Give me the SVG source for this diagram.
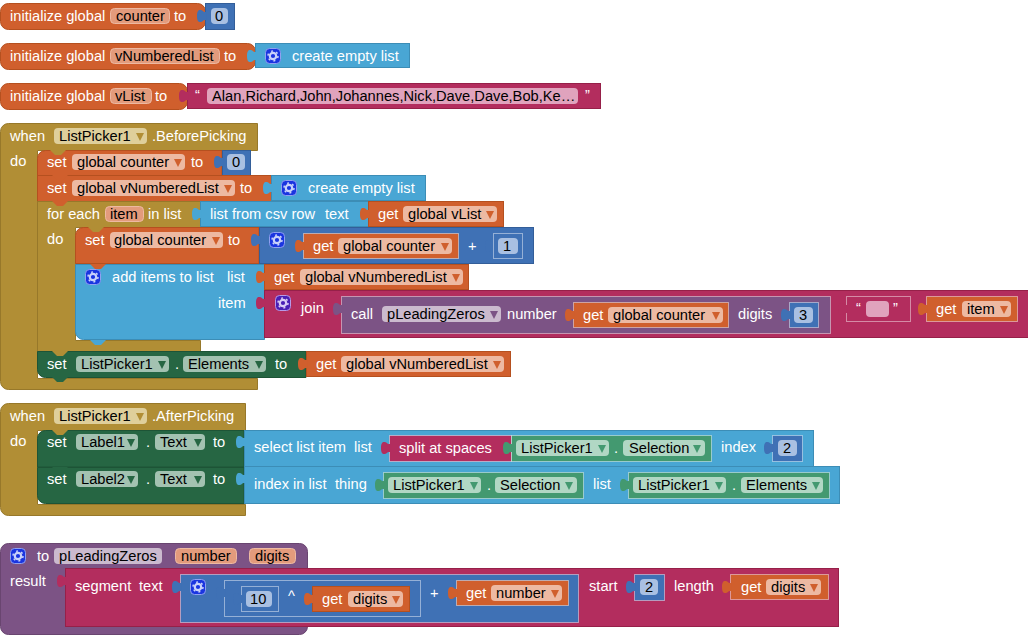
<svg xmlns="http://www.w3.org/2000/svg" width="1028" height="635" viewBox="0 0 1028 635">
<style>
text{font-family:"Liberation Sans",Arial,sans-serif;font-size:14.67px;fill:#fff}
text.k{fill:#000}
.o{fill:#D05F2D;stroke:#B5501F}
.n{fill:#3F71B5;stroke:#335E99}
.l{fill:#49A6D4;stroke:#3C8DB6}
.p{fill:#B32D5E;stroke:#962049}
.m{fill:#B18E35;stroke:#97782A}
.d{fill:#266643;stroke:#1D5436}
.g{fill:#439970;stroke:#37815E}
.v{fill:#7C5385;stroke:#694570}
.i{stroke:#fff;stroke-opacity:.45}
.fo{fill:#EDB9A2}.fn{fill:#A9C0E2}.fp{fill:#E0A3BD}.fm{fill:#DFCF9B}.fd{fill:#A3C2B1}.fg{fill:#B1D7C4}.fv{fill:#CBBACE}
.fr{fill:#E39B7C;stroke:#EDB9A2}
.to{fill:#D05F2D}.tm{fill:#B18E35}.td{fill:#266643}.tg{fill:#439970}.tv{fill:#7C5385}
</style>
<defs>
<path id="tab" stroke="none" d="M9.500 0V3H7.500C6.500 3 6 1.500 4 1C1.500 .4 0 2 0 7S1.500 13.600 4 13C6 12.500 6.500 11 7.500 11H9.500V14Z"/>
<path id="tri" stroke="none" d="M1 1H9L5 9Z"/>
<path id="ntc" stroke="none" d="M0 0H16L11 5H5Z"/>
<g id="gear">
<rect x=".5" y=".5" width="15" height="15" rx="4" fill="#1A35E0" stroke="#8FA0F0"/>
<circle cx="8" cy="8" r="3.200" fill="none" stroke="#C9D2FA" stroke-width="2.200"/>
<circle cx="8" cy="8" r="5" fill="none" stroke="#C9D2FA" stroke-width="1.500" stroke-dasharray="2 3.240"/>
</g>
<g id="gearp">
<rect x=".5" y=".5" width="15" height="15" rx="4" fill="#4A1FB5" stroke="#B79AE8"/>
<circle cx="8" cy="8" r="3.200" fill="none" stroke="#D9CBF5" stroke-width="2.200"/>
<circle cx="8" cy="8" r="5" fill="none" stroke="#D9CBF5" stroke-width="1.500" stroke-dasharray="2 3.240"/>
</g>
</defs>

<g id="init-counter">
<rect class="o" x=".5" y="3.500" width="205" height="26" rx="8"/>
<text x="10" y="21">initialize global</text>
<rect class="fr" x="110.500" y="8.500" width="59" height="15" rx="4"/><text class="k" x="116" y="21">counter</text>
<text x="174" y="21">to</text>
</g>
<g id="num-0">
<rect class="n" x="205.500" y="3.500" width="29" height="26"/><use href="#tab" x="197" y="9" class="n"/>
<rect class="fn" x="211" y="8" width="17" height="16" rx="4"/><text class="k" x="215" y="21">0</text>
</g>

<g id="init-vnumbered">
<rect class="o" x=".5" y="43.500" width="255" height="26" rx="8"/>
<text x="10" y="61">initialize global</text>
<rect class="fr" x="110.500" y="48.500" width="109" height="15" rx="4"/><text class="k" x="115" y="61">vNumberedList</text>
<text x="224" y="61">to</text>
</g>
<g id="empty-list-1">
<rect class="l" x="255.500" y="43.500" width="154" height="24"/><use href="#tab" x="247" y="49" class="l"/>
<use href="#gear" x="265" y="48"/><text x="292" y="61">create empty list</text>
</g>

<g id="init-vlist">
<rect class="o" x=".5" y="83.500" width="187" height="26" rx="8"/>
<text x="10" y="101">initialize global</text>
<rect class="fr" x="110.500" y="88.500" width="41" height="15" rx="4"/><text class="k" x="115" y="101">vList</text>
<text x="155" y="101">to</text>
</g>
<g id="text-vlist">
<rect class="p" x="187.500" y="83.500" width="413" height="25"/><use href="#tab" x="179" y="89" class="p"/>
<text x="195" y="100">“</text>
<rect class="fp" x="207" y="88" width="371" height="16" rx="4"/><text class="k" x="212" y="101">Alan,Richard,John,Johannes,Nick,Dave,Dave,Bob,Ke…</text>
<text x="585" y="100">”</text>
</g>

<g id="when-before">
<path class="m" d="M.5 131.500a8 8 0 0 1 8-8H257.500V150.500H37.500V378.500H257.500V389.500H8.500a8 8 0 0 1-8-8Z"/>
<text x="10" y="141">when</text>
<rect class="fm" x="54" y="128" width="93" height="16" rx="4"/><text class="k" x="59" y="141">ListPicker1</text><use href="#tri" x="135" y="132" class="tm"/>
<text x="152" y="141">.BeforePicking</text>
<text x="10" y="166">do</text>
</g>
<g id="set-counter">
<path class="o" d="M37.500 158.500a8 8 0 0 1 8-8H222V175.500H37.500Z"/>
<use href="#ntc" x="50" y="150" class="tm"/>
<text x="47" y="167">set</text>
<rect class="fo" x="72" y="154" width="113" height="16" rx="4"/><text class="k" x="77" y="167">global counter</text><use href="#tri" x="173" y="158" class="to"/>
<text x="191" y="167">to</text>
<rect class="n" x="222.500" y="150.500" width="28" height="25"/><use href="#tab" x="214" y="155" class="n"/>
<rect class="fn" x="227" y="154" width="18" height="16" rx="4"/><text class="k" x="232" y="167">0</text>
</g>
<g id="set-vnumbered">
<rect class="o" x="37.500" y="175.500" width="234" height="26"/>
<use href="#ntc" x="52" y="175" class="to"/>
<text x="47" y="193">set</text>
<rect class="fo" x="72" y="180" width="163" height="16" rx="4"/><text class="k" x="77" y="193">global vNumberedList</text><use href="#tri" x="223" y="184" class="to"/>
<text x="240" y="193">to</text>
<rect class="l" x="271.500" y="175.500" width="154" height="25"/><use href="#tab" x="263" y="181" class="l"/>
<use href="#gear" x="281" y="180"/><text x="308" y="193">create empty list</text>
</g>
<g id="for-each">
<path class="m" d="M37.500 201.500H200.500V227.500H75.500V340.500H200.500V351.500H37.500Z"/>
<use href="#ntc" x="52" y="201" class="to"/>
<text x="47" y="219">for each</text>
<rect class="fr" x="105.500" y="206.500" width="38" height="15" rx="4"/><text class="k" x="110" y="219">item</text>
<text x="148" y="219">in list</text>
<text x="47" y="244">do</text>
</g>
<g id="csv-row">
<rect class="l" x="200.500" y="201.500" width="168" height="25"/><use href="#tab" x="192" y="207" class="l"/>
<text x="210" y="219">list from csv row</text><text x="325" y="219">text</text>
</g>
<g id="get-vlist">
<rect class="o" x="368.500" y="201.500" width="135" height="25"/><use href="#tab" x="360" y="207" class="o"/>
<text x="378" y="219">get</text>
<rect class="fo" x="403" y="206" width="94" height="16" rx="4"/><text class="k" x="408" y="219">global vList</text><use href="#tri" x="485" y="210" class="to"/>
</g>
<g id="set-counter-2">
<path class="o" d="M75.500 235.500a8 8 0 0 1 8-8H259V263.500H75.500Z"/>
<use href="#ntc" x="88" y="227" class="tm"/>
<text x="85" y="245">set</text>
<rect class="fo" x="110" y="232" width="113" height="16" rx="4"/><text class="k" x="114" y="245">global counter</text><use href="#tri" x="211" y="236" class="to"/>
<text x="228" y="245">to</text>
</g>
<g id="add-block">
<rect class="n" x="259.500" y="227.500" width="274" height="36"/><use href="#tab" x="251" y="233" class="n"/>
<use href="#gear" x="269" y="232"/>
<text x="468" y="251">+</text>
<use href="#tab" x="485" y="239" class="n"/>
<rect class="n i" x="493.500" y="233.500" width="29" height="25"/>
<rect class="fn" x="498" y="238" width="20" height="16" rx="4"/><text class="k" x="503" y="251">1</text>
</g>
<g id="get-counter-1">
<rect class="o i" x="303.500" y="233.500" width="155" height="25"/><use href="#tab" x="295" y="239" class="o"/>
<text x="313" y="251">get</text>
<rect class="fo" x="338" y="238" width="114" height="16" rx="4"/><text class="k" x="343" y="251">global counter</text><use href="#tri" x="440" y="242" class="to"/>
</g>
<g id="add-items">
<path class="l" d="M75.500 264.500H264.500V339.500H83.500a8 8 0 0 1-8-8Z"/>
<use href="#ntc" x="90" y="264" class="to"/>
<use href="#ntc" x="90" y="340" class="l"/>
<use href="#gear" x="85" y="269"/>
<text x="112" y="282">add items to list</text><text x="227" y="282">list</text><text x="218" y="308">item</text>
</g>
<g id="get-vnumbered-1">
<rect class="o" x="264.500" y="264.500" width="204" height="25"/><use href="#tab" x="256" y="270" class="o"/>
<text x="274" y="282">get</text>
<rect class="fo" x="300" y="269" width="163" height="16" rx="4"/><text class="k" x="305" y="282">global vNumberedList</text><use href="#tri" x="451" y="273" class="to"/>
</g>
<g id="join">
<rect class="p" x="264.500" y="290.500" width="764" height="47"/><use href="#tab" x="256" y="296" class="p"/>
<use href="#gearp" x="275" y="295"/><text x="301" y="313">join</text>
</g>
<g id="call-pleading">
<rect class="v i" x="341.500" y="296.500" width="489" height="37"/><use href="#tab" x="333" y="302" class="v"/>
<text x="351" y="319">call</text>
<rect class="fv" x="382" y="306" width="119" height="16" rx="4"/><text class="k" x="387" y="319">pLeadingZeros</text><use href="#tri" x="489" y="310" class="tv"/>
<text x="507" y="319">number</text><text x="738" y="319">digits</text>
</g>
<g id="get-counter-2">
<rect class="o i" x="573.500" y="302.500" width="155" height="25"/><use href="#tab" x="565" y="308" class="o"/>
<text x="583" y="320">get</text>
<rect class="fo" x="608" y="307" width="115" height="16" rx="4"/><text class="k" x="613" y="320">global counter</text><use href="#tri" x="711" y="311" class="to"/>
</g>
<g id="num-3">
<rect class="n i" x="789.500" y="302.500" width="29" height="25"/><use href="#tab" x="781" y="308" class="n"/>
<rect class="fn" x="794" y="307" width="19" height="16" rx="4"/><text class="k" x="799" y="320">3</text>
</g>
<g id="text-empty">
<rect class="p i" x="846.500" y="296.500" width="64" height="25"/><use href="#tab" x="838" y="302" class="p"/>
<text x="856" y="313">“</text>
<rect class="fp" x="866" y="301" width="23" height="16" rx="4"/>
<text x="893" y="313">”</text>
</g>
<g id="get-item">
<rect class="o i" x="926.500" y="296.500" width="91" height="25"/><use href="#tab" x="918" y="302" class="o"/>
<text x="936" y="314">get</text>
<rect class="fo" x="962" y="301" width="49" height="16" rx="4"/><text class="k" x="967" y="314">item</text><use href="#tri" x="999" y="305" class="to"/>
</g>
<g id="set-elements">
<path class="d" d="M37.500 351.500H306V377.500H45.500a8 8 0 0 1-8-8Z"/>
<use href="#ntc" x="52" y="351" class="tm"/>
<use href="#ntc" x="52" y="377" class="td"/>
<text x="47" y="369">set</text>
<rect class="fd" x="76" y="356" width="93" height="16" rx="4"/><text class="k" x="81" y="369">ListPicker1</text><use href="#tri" x="157" y="360" class="td"/>
<text x="175" y="369">.</text>
<rect class="fd" x="183" y="356" width="83" height="16" rx="4"/><text class="k" x="188" y="369">Elements</text><use href="#tri" x="254" y="360" class="td"/>
<text x="275" y="369">to</text>
</g>
<g id="get-vnumbered-2">
<rect class="o" x="306.500" y="351.500" width="204" height="25"/><use href="#tab" x="298" y="357" class="o"/>
<text x="316" y="369">get</text>
<rect class="fo" x="341" y="356" width="163" height="16" rx="4"/><text class="k" x="346" y="369">global vNumberedList</text><use href="#tri" x="492" y="360" class="to"/>
</g>

<g id="when-after">
<path class="m" d="M.5 411.500a8 8 0 0 1 8-8H245.500V430.500H37.500V504.500H245.500V515.500H8.500a8 8 0 0 1-8-8Z"/>
<text x="10" y="421">when</text>
<rect class="fm" x="54" y="408" width="93" height="16" rx="4"/><text class="k" x="59" y="421">ListPicker1</text><use href="#tri" x="135" y="412" class="tm"/>
<text x="152" y="421">.AfterPicking</text>
<text x="10" y="446">do</text>
</g>
<g id="set-label1">
<path class="d" d="M37.500 438.500a8 8 0 0 1 8-8H244V467H37.500Z"/>
<use href="#ntc" x="52" y="430" class="tm"/>
<text x="47" y="447">set</text>
<rect class="fd" x="76" y="434" width="62" height="16" rx="4"/><text class="k" x="81" y="447">Label1</text><use href="#tri" x="126" y="438" class="td"/>
<text x="146" y="447">.</text>
<rect class="fd" x="155" y="434" width="50" height="16" rx="4"/><text class="k" x="160" y="447">Text</text><use href="#tri" x="193" y="438" class="td"/>
<text x="213" y="447">to</text>
</g>
<g id="select-item">
<rect class="l" x="244.500" y="430.500" width="569" height="36"/><use href="#tab" x="236" y="435" class="l"/>
<text x="254" y="452">select list item</text><text x="354" y="452">list</text><text x="721" y="452">index</text>
</g>
<g id="split-spaces">
<rect class="p i" x="389.500" y="435.500" width="122" height="26"/><use href="#tab" x="381" y="441" class="p"/>
<text x="399" y="453">split at spaces</text>
</g>
<g id="picker-selection-1">
<rect class="g i" x="511.500" y="435.500" width="200" height="26"/><use href="#tab" x="503" y="441" class="g"/>
<rect class="fg" x="516" y="440" width="93" height="16" rx="4"/><text class="k" x="521" y="453">ListPicker1</text><use href="#tri" x="597" y="444" class="tg"/>
<text x="614" y="453">.</text>
<rect class="fg" x="623" y="440" width="82" height="16" rx="4"/><text class="k" x="629" y="453">Selection</text><use href="#tri" x="692" y="444" class="tg"/>
</g>
<g id="num-2a">
<rect class="n i" x="772.500" y="435.500" width="30" height="26"/><use href="#tab" x="764" y="441" class="n"/>
<rect class="fn" x="778" y="440" width="19" height="16" rx="4"/><text class="k" x="783" y="453">2</text>
</g>
<g id="set-label2">
<path class="d" d="M37.500 467.500H244V503.500H45.500a8 8 0 0 1-8-8Z"/>
<use href="#ntc" x="52" y="467" class="td"/>
<text x="47" y="484">set</text>
<rect class="fd" x="76" y="471" width="62" height="16" rx="4"/><text class="k" x="81" y="484">Label2</text><use href="#tri" x="126" y="475" class="td"/>
<text x="146" y="484">.</text>
<rect class="fd" x="155" y="471" width="50" height="16" rx="4"/><text class="k" x="160" y="484">Text</text><use href="#tri" x="193" y="475" class="td"/>
<text x="213" y="484">to</text>
</g>
<g id="index-in-list">
<rect class="l" x="244.500" y="466.500" width="595" height="37"/><use href="#tab" x="236" y="472" class="l"/>
<text x="254" y="489">index in list</text><text x="335" y="489">thing</text><text x="593" y="489">list</text>
</g>
<g id="picker-selection-2">
<rect class="g i" x="383.500" y="472.500" width="200" height="26"/><use href="#tab" x="375" y="478" class="g"/>
<rect class="fg" x="388" y="477" width="93" height="16" rx="4"/><text class="k" x="393" y="490">ListPicker1</text><use href="#tri" x="469" y="481" class="tg"/>
<text x="487" y="490">.</text>
<rect class="fg" x="495" y="477" width="82" height="16" rx="4"/><text class="k" x="500" y="490">Selection</text><use href="#tri" x="564" y="481" class="tg"/>
</g>
<g id="picker-elements">
<rect class="g i" x="628.500" y="472.500" width="201" height="26"/><use href="#tab" x="620" y="478" class="g"/>
<rect class="fg" x="633" y="477" width="93" height="16" rx="4"/><text class="k" x="638" y="490">ListPicker1</text><use href="#tri" x="714" y="481" class="tg"/>
<text x="732" y="490">.</text>
<rect class="fg" x="741" y="477" width="82" height="16" rx="4"/><text class="k" x="746" y="490">Elements</text><use href="#tri" x="811" y="481" class="tg"/>
</g>

<g id="proc">
<rect class="v" x=".5" y="543.500" width="307" height="91" rx="8"/>
<use href="#gear" x="10" y="548"/>
<text x="37" y="561">to</text>
<rect class="fv" x="54" y="548" width="108" height="16" rx="4"/><text class="k" x="59" y="561">pLeadingZeros</text>
<rect class="fr" x="175.500" y="548.500" width="61" height="15" rx="4"/><text class="k" x="181" y="561">number</text>
<rect class="fr" x="249.500" y="548.500" width="46" height="15" rx="4"/><text class="k" x="255" y="561">digits</text>
<text x="10" y="586">result</text>
</g>
<g id="segment">
<rect class="p" x="65.500" y="568.500" width="773" height="58"/><use href="#tab" x="57" y="574" class="p"/>
<text x="75" y="591">segment</text><text x="139" y="591">text</text>
<text x="589" y="591">start</text><text x="674" y="591">length</text>
</g>
<g id="add-outer">
<rect class="n i" x="180.500" y="574.500" width="398" height="48"/><use href="#tab" x="172" y="580" class="n"/>
<use href="#gear" x="190" y="579"/>
<text x="430" y="598">+</text>
</g>
<g id="power">
<rect class="n i" x="224.500" y="580.500" width="196" height="36"/><use href="#tab" x="216" y="586" class="n"/>
<text x="288" y="601">^</text>
</g>
<g id="num-10">
<rect class="n i" x="241.500" y="586.500" width="37" height="25"/><use href="#tab" x="233" y="592" class="n"/>
<rect class="fn" x="246" y="591" width="26" height="16" rx="4"/><text class="k" x="250" y="604">10</text>
</g>
<g id="get-digits-1">
<rect class="o" x="312.500" y="586.500" width="97" height="25"/><use href="#tab" x="304" y="592" class="o"/>
<text x="322" y="604">get</text>
<rect class="fo" x="348" y="591" width="55" height="16" rx="4"/><text class="k" x="353" y="604">digits</text><use href="#tri" x="391" y="595" class="to"/>
</g>
<g id="get-number">
<rect class="o i" x="456.500" y="580.500" width="112" height="25"/><use href="#tab" x="448" y="586" class="o"/>
<text x="466" y="598">get</text>
<rect class="fo" x="491" y="585" width="71" height="16" rx="4"/><text class="k" x="496" y="598">number</text><use href="#tri" x="550" y="589" class="to"/>
</g>
<g id="num-2b">
<rect class="n i" x="634.500" y="574.500" width="30" height="26"/><use href="#tab" x="626" y="580" class="n"/>
<rect class="fn" x="640" y="579" width="18" height="16" rx="4"/><text class="k" x="645" y="592">2</text>
</g>
<g id="get-digits-2">
<rect class="o i" x="730.500" y="574.500" width="98" height="25"/><use href="#tab" x="722" y="580" class="o"/>
<text x="741" y="592">get</text>
<rect class="fo" x="766" y="579" width="55" height="16" rx="4"/><text class="k" x="771" y="592">digits</text><use href="#tri" x="809" y="583" class="to"/>
</g>
</svg>
